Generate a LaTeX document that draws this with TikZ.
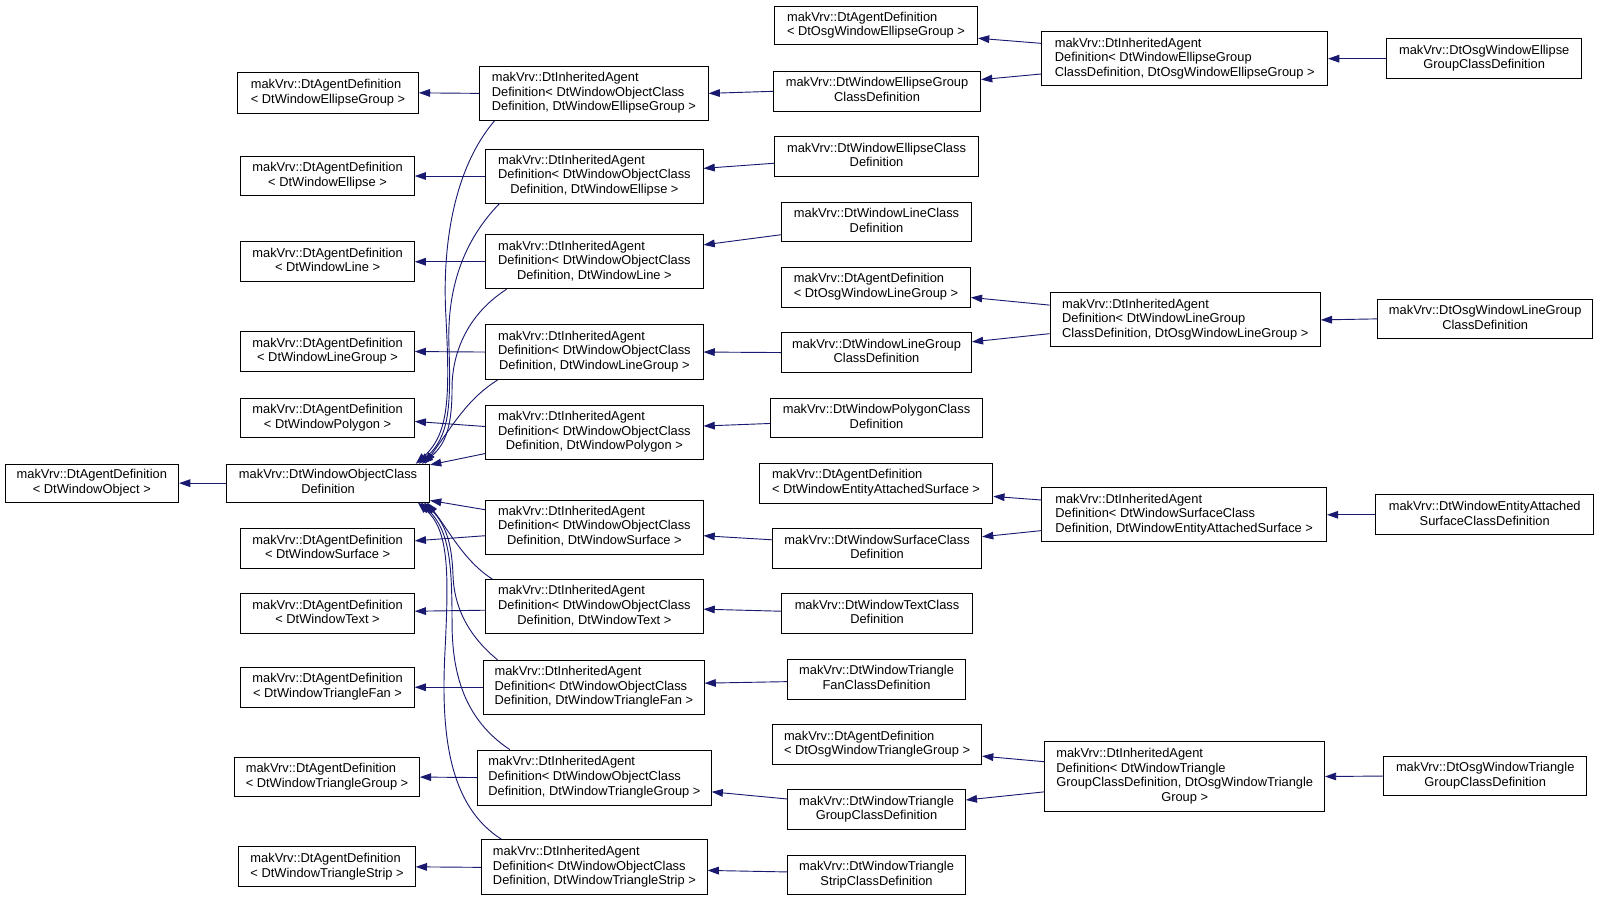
\documentclass[tikz,border=0pt]{standalone}
\usepackage{fontspec}
\setmainfont{Liberation Sans}
\usetikzlibrary{arrows.meta}
\definecolor{edgeblue}{RGB}{25,25,112}
\newcommand\lt[2]{\begin{tabular}{@{}l@{}}#1\\\multicolumn{1}{@{}c@{}}{#2}\end{tabular}}
\newcommand\bx[6]{%
  \pgfmathsetmacro\bxw{#4-#2}\pgfmathsetmacro\bxh{#5-#3}%
  \node[bx, minimum width=\bxw pt, minimum height=\bxh pt] (#1) at ({(#2+#4)/2},{(#3+#5)/2}) {#6};}
\begin{document}
\begin{tikzpicture}[x=1pt,y=-1pt,
  bx/.style={draw=black, line width=0.9pt, fill=white, inner sep=0pt, font=\fontsize{12.6}{14.3}\selectfont},
  inh/.style={draw=edgeblue, line width=0.9pt, -{Triangle[length=11pt,width=7.5pt]}}]
\fill[white] (0,0) rectangle (1568,883);
\useasboundingbox (0,0) rectangle (1568,883);

% column 0 and 1
\bx{A0}{5}{455}{175}{492}{\lt{makVrv::DtAgentDefinition}{< DtWindowObject >}}
\bx{B}{222}{455}{421}{492}{\lt{makVrv::DtWindowObjectClass}{Definition}}

\bx{C1}{233}{71}{410}{111}{\lt{makVrv::DtAgentDefinition}{< DtWindowEllipseGroup >}}
\bx{C2}{236}{153}{406}{192}{\lt{makVrv::DtAgentDefinition}{< DtWindowEllipse >}}
\bx{C3}{236}{237}{406}{276}{\lt{makVrv::DtAgentDefinition}{< DtWindowLine >}}
\bx{C4}{236}{325}{406}{364}{\lt{makVrv::DtAgentDefinition}{< DtWindowLineGroup >}}
\bx{C5}{236}{390}{406}{429}{\lt{makVrv::DtAgentDefinition}{< DtWindowPolygon >}}
\bx{C6}{236}{518}{406}{557}{\lt{makVrv::DtAgentDefinition}{< DtWindowSurface >}}
\bx{C7}{236}{582}{406}{621}{\lt{makVrv::DtAgentDefinition}{< DtWindowText >}}
\bx{C8}{236}{654}{406}{693}{\lt{makVrv::DtAgentDefinition}{< DtWindowTriangleFan >}}
\bx{C9}{230}{742}{411}{781}{\lt{makVrv::DtAgentDefinition}{< DtWindowTriangleGroup >}}
\bx{C10}{234}{830}{407}{869}{\lt{makVrv::DtAgentDefinition}{< DtWindowTriangleStrip >}}

% column 2
\bx{D1}{470}{65}{694}{118}{\lt{makVrv::DtInheritedAgent\\Definition< DtWindowObjectClass}{Definition, DtWindowEllipseGroup >}}
\bx{D2}{476}{146}{689}{199}{\lt{makVrv::DtInheritedAgent\\Definition< DtWindowObjectClass}{Definition, DtWindowEllipse >}}
\bx{D3}{476}{230}{689}{283}{\lt{makVrv::DtInheritedAgent\\Definition< DtWindowObjectClass}{Definition, DtWindowLine >}}
\bx{D4}{476}{318}{689}{372}{\lt{makVrv::DtInheritedAgent\\Definition< DtWindowObjectClass}{Definition, DtWindowLineGroup >}}
\bx{D5}{476}{397}{689}{450}{\lt{makVrv::DtInheritedAgent\\Definition< DtWindowObjectClass}{Definition, DtWindowPolygon >}}
\bx{D6}{476}{490}{689}{543}{\lt{makVrv::DtInheritedAgent\\Definition< DtWindowObjectClass}{Definition, DtWindowSurface >}}
\bx{D7}{476}{568}{689}{621}{\lt{makVrv::DtInheritedAgent\\Definition< DtWindowObjectClass}{Definition, DtWindowText >}}
\bx{D8}{474}{647}{690}{700}{\lt{makVrv::DtInheritedAgent\\Definition< DtWindowObjectClass}{Definition, DtWindowTriangleFan >}}
\bx{D9}{468}{735}{697}{789}{\lt{makVrv::DtInheritedAgent\\Definition< DtWindowObjectClass}{Definition, DtWindowTriangleGroup >}}
\bx{D10}{472}{823}{693}{877}{\lt{makVrv::DtInheritedAgent\\Definition< DtWindowObjectClass}{Definition, DtWindowTriangleStrip >}}

% column 3
\bx{E1}{759}{6}{958}{44}{\lt{makVrv::DtAgentDefinition}{< DtOsgWindowEllipseGroup >}}
\bx{E2}{758}{70}{961}{109}{\lt{makVrv::DtWindowEllipseGroup}{ClassDefinition}}
\bx{E3}{759}{134}{959}{173}{\lt{makVrv::DtWindowEllipseClass}{Definition}}
\bx{E4}{766}{198}{952}{237}{\lt{makVrv::DtWindowLineClass}{Definition}}
\bx{E5}{766}{262}{951}{301}{\lt{makVrv::DtAgentDefinition}{< DtOsgWindowLineGroup >}}
\bx{E6}{766}{326}{952}{365}{\lt{makVrv::DtWindowLineGroup}{ClassDefinition}}
\bx{E7}{755}{390}{963}{429}{\lt{makVrv::DtWindowPolygonClass}{Definition}}
\bx{E8}{744}{454}{973}{493}{\lt{makVrv::DtAgentDefinition}{< DtWindowEntityAttachedSurface >}}
\bx{E9}{757}{518}{962}{557}{\lt{makVrv::DtWindowSurfaceClass}{Definition}}
\bx{E10}{766}{582}{953}{621}{\lt{makVrv::DtWindowTextClass}{Definition}}
\bx{E11}{772}{646}{946}{685}{\lt{makVrv::DtWindowTriangle}{FanClassDefinition}}
\bx{E12}{757}{710}{962}{749}{\lt{makVrv::DtAgentDefinition}{< DtOsgWindowTriangleGroup >}}
\bx{E13}{772}{774}{946}{813}{\lt{makVrv::DtWindowTriangle}{GroupClassDefinition}}
\bx{E14}{772}{838}{946}{877}{\lt{makVrv::DtWindowTriangle}{StripClassDefinition}}

% column 4
\bx{F1}{1021}{31}{1301}{84}{\lt{makVrv::DtInheritedAgent\\Definition< DtWindowEllipseGroup}{ClassDefinition, DtOsgWindowEllipseGroup >}}
\bx{F2}{1029}{287}{1294}{340}{\lt{makVrv::DtInheritedAgent\\Definition< DtWindowLineGroup}{ClassDefinition, DtOsgWindowLineGroup >}}
\bx{F3}{1021}{478}{1300}{531}{\lt{makVrv::DtInheritedAgent\\Definition< DtWindowSurfaceClass}{Definition, DtWindowEntityAttachedSurface >}}
\bx{F4}{1024}{727}{1298}{795}{\lt{makVrv::DtInheritedAgent\\Definition< DtWindowTriangle\\GroupClassDefinition, DtOsgWindowTriangle}{Group >}}

% column 5
\bx{G1}{1359}{38}{1550}{77}{\lt{makVrv::DtOsgWindowEllipse}{GroupClassDefinition}}
\bx{G2}{1350}{293}{1561}{332}{\lt{makVrv::DtOsgWindowLineGroup}{ClassDefinition}}
\bx{G3}{1348}{485}{1562}{524}{\lt{makVrv::DtWindowEntityAttached}{SurfaceClassDefinition}}
\bx{G4}{1356}{741}{1555}{780}{\lt{makVrv::DtOsgWindowTriangle}{GroupClassDefinition}}

% edges: B -> A0
\draw[inh] (B.west) -- (A0.east);

% D -> C
\draw[inh] (D1.west) -- (C1.east);
\draw[inh] (D2.west) -- (C2.east);
\draw[inh] (D3.west) -- (C3.east);
\draw[inh] (D4.west) -- (C4.east);
\draw[inh] ([yshift=5.5pt]D5.west) -- ([yshift=-3.5pt]C5.east);
\draw[inh] ([yshift=-8.5pt]D6.west) -- ([yshift=7.5pt]C6.east);
\draw[inh] ([yshift=-3.5pt]D7.west) -- ([yshift=2.5pt]C7.east);
\draw[inh] (D8.west) -- (C8.east);
\draw[inh] (D9.west) -- (C9.east);
\draw[inh] (D10.west) -- (C10.east);

% D -> B (curved)
\draw[inh] ([xshift=15pt]D1.south west) .. controls (445,165) and (433,240) .. (437,310) .. controls (441,390) and (440,425) .. ([xshift=-14pt]B.north east);
\draw[inh] ([xshift=14pt]D2.south west) .. controls (450,240) and (438,290) .. (440,340) .. controls (442,400) and (440,428) .. ([xshift=-11pt]B.north east);
\draw[inh] ([xshift=21pt]D3.south west) .. controls (455,310) and (443,350) .. (443,380) .. controls (443,415) and (438,435) .. ([xshift=-8pt]B.north east);
\draw[inh] ([xshift=12pt]D4.south west) .. controls (460,390) and (448,410) .. ([xshift=-5pt]B.north east);
\draw[inh] ([yshift=6pt]D5.south west) -- ([yshift=-1pt]B.north east);
\draw[inh] ([yshift=-10pt]D6.north west) -- ([yshift=2pt]B.south east);
\draw[inh] ([xshift=7pt]D7.north west) .. controls (455,550) and (440,520) .. ([xshift=-3pt]B.south east);
\draw[inh] ([xshift=14pt]D8.north west) .. controls (455,620) and (445,590) .. (444,565) .. controls (443,535) and (438,515) .. ([xshift=-6pt]B.south east);
\draw[inh] ([xshift=32pt]D9.north west) .. controls (455,705) and (443,660) .. (443,610) .. controls (443,550) and (440,520) .. ([xshift=-9pt]B.south east);
\draw[inh] ([xshift=20pt]D10.north west) .. controls (440,790) and (432,720) .. (436,640) .. controls (440,560) and (440,520) .. ([xshift=-12pt]B.south east);

% E -> D
\draw[inh] (E2.west) -- (D1.east);
\draw[inh] ([yshift=-6.5pt]E3.west) -- ([yshift=7.5pt]D2.east);
\draw[inh] ([yshift=-12.5pt]E4.west) -- ([yshift=16.5pt]D3.east);
\draw[inh] (E6.west) -- (D4.east);
\draw[inh] ([yshift=-5.5pt]E7.west) -- ([yshift=6pt]D5.east);
\draw[inh] ([yshift=8.5pt]E9.west) -- ([yshift=-8.5pt]D6.east);
\draw[inh] ([yshift=2.5pt]E10.west) -- ([yshift=-2.5pt]D7.east);
\draw[inh] ([yshift=-2.5pt]E11.west) -- ([yshift=4pt]D8.east);
\draw[inh] ([yshift=10.5pt]E13.west) -- ([yshift=-14pt]D9.east);
\draw[inh] ([yshift=3pt]E14.west) -- ([yshift=-3pt]D10.east);

% F -> E
\draw[inh] ([yshift=15pt]F1.west) -- ([yshift=-12.5pt]E1.east);
\draw[inh] ([yshift=-15pt]F1.west) -- ([yshift=11.5pt]E2.east);
\draw[inh] ([yshift=14.5pt]F2.west) -- ([yshift=-10pt]E5.east);
\draw[inh] ([yshift=-13.5pt]F2.west) -- ([yshift=10.5pt]E6.east);
\draw[inh] ([yshift=14.5pt]F3.west) -- ([yshift=-13pt]E8.east);
\draw[inh] ([yshift=-15.5pt]F3.west) -- ([yshift=11.5pt]E9.east);
\draw[inh] ([yshift=14.5pt]F4.west) -- ([yshift=-11.5pt]E12.east);
\draw[inh] ([yshift=-15pt]F4.west) -- ([yshift=9.5pt]E13.east);

% G -> F
\draw[inh] (G1.west) -- (F1.east);
\draw[inh] (G2.west) -- (F2.east);
\draw[inh] (G3.west) -- (F3.east);
\draw[inh] (G4.west) -- (F4.east);
\end{tikzpicture}
\end{document}
